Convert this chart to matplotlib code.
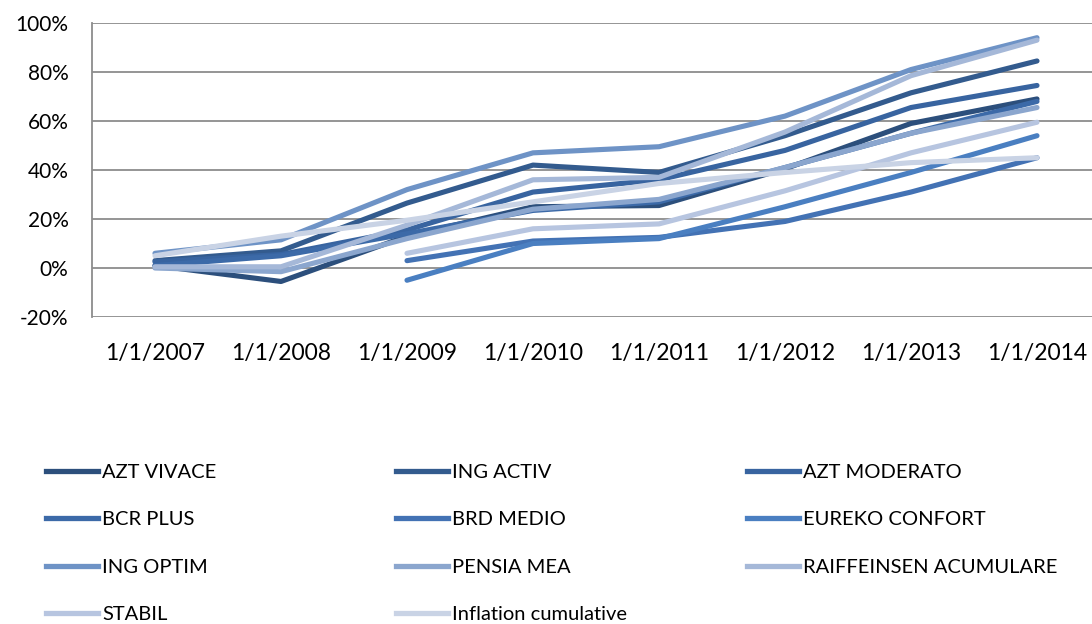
import numpy as np
import matplotlib.pyplot as plt
from matplotlib.lines import Line2D
from matplotlib.ticker import FuncFormatter

plt.rcParams['font.family'] = ['Lato', 'DejaVu Sans']

years = ['1/1/2007', '1/1/2008', '1/1/2009', '1/1/2010',
         '1/1/2011', '1/1/2012', '1/1/2013', '1/1/2014']

# cumulative returns, %
azt_vivace = [1.0, -5.5, 13.0, 25.0, 25.5, 40.5, 59.0, 69.0]
ing_activ = [3.0, 7.0, 26.5, 42.0, 39.0, 54.0, 71.5, 84.5]
azt_moderato = [2.5, 5.5, 15.5, 31.0, 36.0, 48.0, 65.5, 74.5]
bcr_plus = [1.0, 5.0, 14.0, 23.5, 27.0, 41.0, 55.0, 68.0]
brd_medio = [np.nan, np.nan, 3.0, 11.0, 12.5, 19.0, 31.0, 45.0]
eureko_confort = [np.nan, np.nan, -5.0, 10.0, 12.0, 25.0, 39.0, 54.0]
ing_optim = [6.0, 11.5, 32.0, 47.0, 49.5, 62.0, 81.0, 94.0]
pensia_mea = [0.0, -1.5, 12.0, 24.0, 28.0, 41.0, 55.0, 65.5]
raiffeisen = [0.5, 0.5, 17.5, 36.0, 37.0, 55.5, 78.5, 93.0]
stabil = [np.nan, np.nan, 6.0, 16.0, 18.0, 31.5, 47.0, 59.5]
inflation = [5.0, 13.0, 19.5, 27.0, 34.5, 39.0, 43.0, 45.0]

series = [
    ('AZT VIVACE', azt_vivace, '#2c4f7c'),
    ('ING ACTIV', ing_activ, '#335b8e'),
    ('AZT MODERATO', azt_moderato, '#3864a0'),
    ('BCR PLUS', bcr_plus, '#3c6aa8'),
    ('BRD MEDIO', brd_medio, '#4372b4'),
    ('EUREKO CONFORT', eureko_confort, '#4a7fc1'),
    ('ING OPTIM', ing_optim, '#6e93c6'),
    ('PENSIA MEA', pensia_mea, '#8ba6ce'),
    ('RAIFFEINSEN ACUMULARE', raiffeisen, '#a5b8d8'),
    ('STABIL', stabil, '#b7c5e0'),
    ('Inflation cumulative', inflation, '#c9d3e5'),
]

fig = plt.figure(figsize=(10.92, 6.24), dpi=100)
ax = fig.add_axes([92 / 1092, 1 - 317 / 624, 1008 / 1092, 294 / 624])

x = np.arange(len(years))
for name, vals, color in series:
    ax.plot(x, vals, color=color, lw=3.7, solid_capstyle='round',
            solid_joinstyle='round', label=name)

ax.set_xlim(-0.5, len(years) - 0.5)
ax.set_ylim(-20, 100)
ax.set_yticks(np.arange(-20, 101, 20))
ax.yaxis.set_major_formatter(FuncFormatter(lambda v, p: f'{v:.0f}%'))
ax.set_xticks(x)
ax.set_xticklabels(years)
ax.grid(axis='y', color='#8c8c8c', lw=1.3)
ax.set_axisbelow(True)
for side in ['top', 'right', 'bottom']:
    ax.spines[side].set_visible(False)
ax.spines['left'].set_color('#8c8c8c')
ax.spines['left'].set_linewidth(1.3)
ax.tick_params(axis='both', length=0, colors='black')
ax.tick_params(axis='y', pad=17, labelsize=15)
ax.tick_params(axis='x', pad=19, labelsize=16.5)

# legend laid out as three columns, filled row by row
columns = [series[0::3], series[1::3], series[2::3]]
col_x = [46 / 1092, 396 / 1092, 747 / 1092]
for cx, col in zip(col_x, columns):
    handles = [Line2D([], [], color=c, lw=3.8) for _, _, c in col]
    labels = [n for n, _, _ in col]
    fig.legend(handles, labels, loc='upper left', bbox_to_anchor=(cx, 1 - 464 / 624),
               frameon=False, fontsize=14.5, handlelength=2.6, handletextpad=0.2,
               labelspacing=1.5, borderaxespad=0, borderpad=0)

fig.savefig('out.png', dpi=100)
